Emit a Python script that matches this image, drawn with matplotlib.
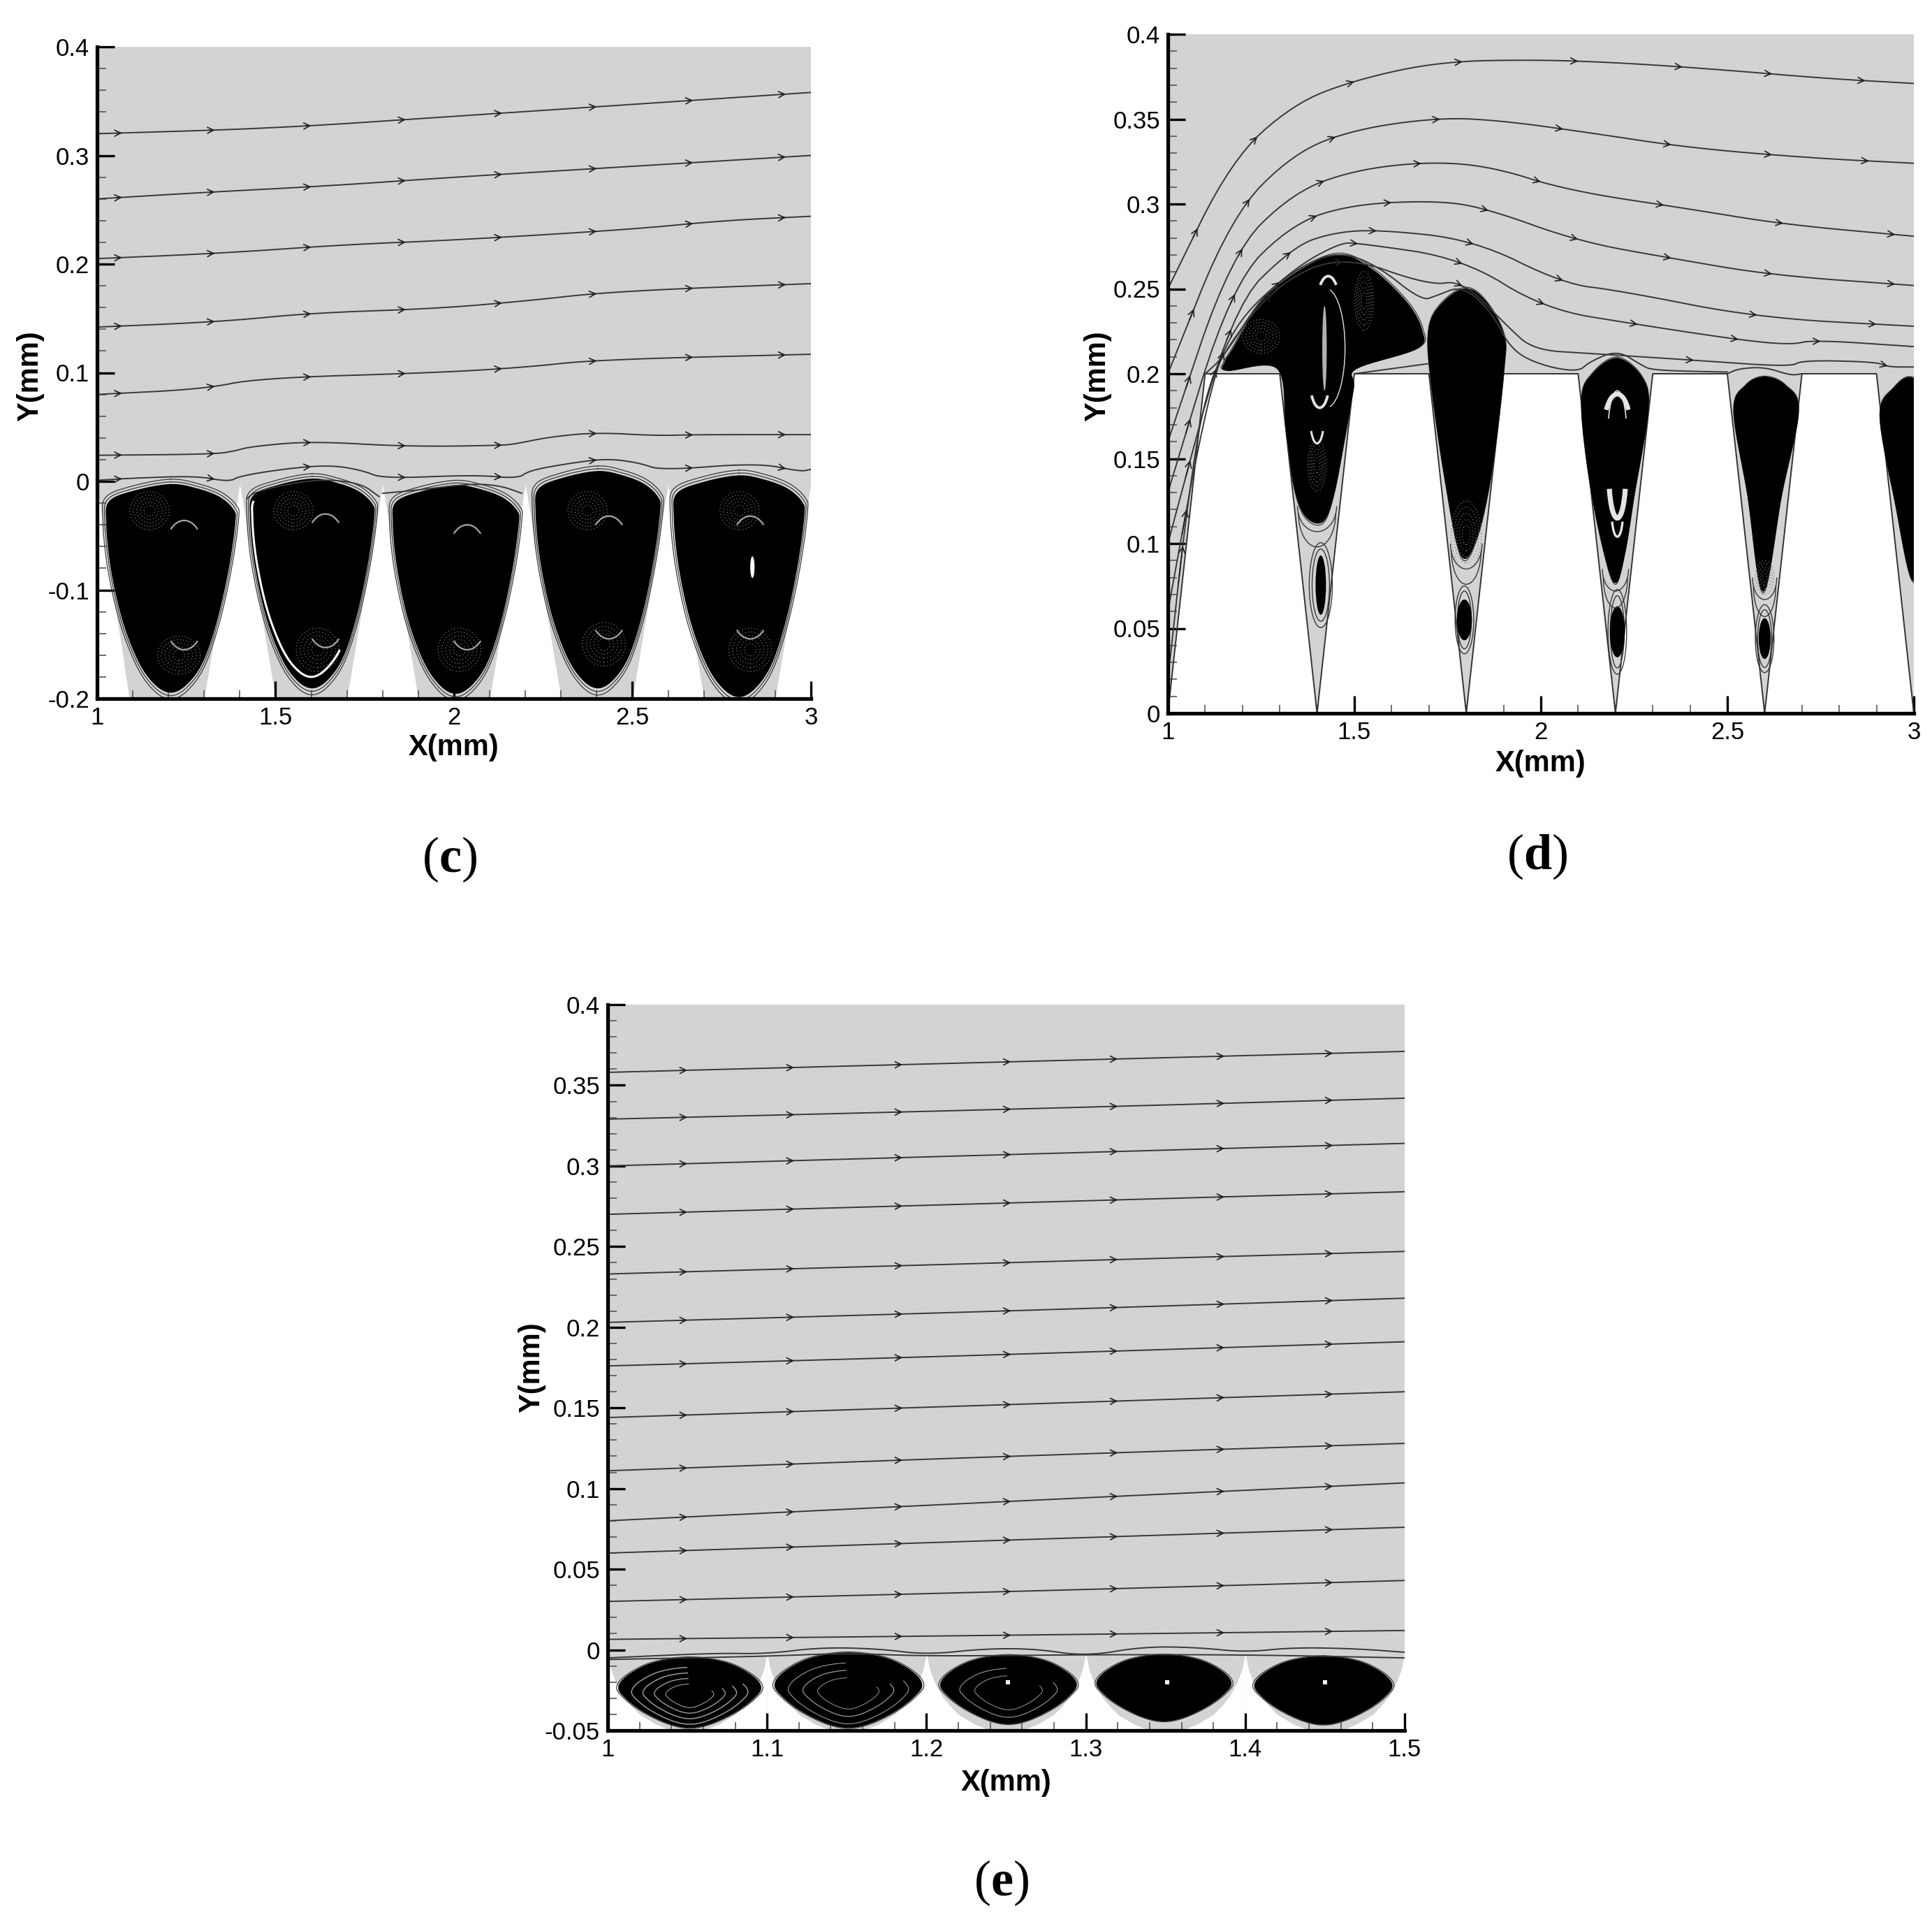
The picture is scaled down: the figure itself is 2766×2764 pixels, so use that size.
#!/usr/bin/env python3
"""Streamlines over ribbed walls, panels (c), (d) and (e)."""

import matplotlib
matplotlib.use("Agg")
import matplotlib.pyplot as plt
import numpy as np
from matplotlib.patches import Arc, Ellipse

plt.rcParams["font.family"] = ["Liberation Sans", "DejaVu Sans"]
plt.rcParams["mathtext.fontset"] = "custom"
plt.rcParams["mathtext.rm"] = "Liberation Serif"
plt.rcParams["mathtext.bf"] = "Liberation Serif:bold"

W, H = 2766, 2764
GRAY = "#d3d3d3"
LINE = "#383838"

# ---- panel (c)
c_wall_x = [1.0, 1.09, 1.3, 1.4, 1.5, 1.7, 1.8, 1.9, 2.1, 2.2, 2.3, 2.5, 2.6, 2.7, 2.9, 3.0]
c_wall_y = [-0.003, -0.2, -0.2, -0.003, -0.2, -0.2, -0.003, -0.2, -0.2, -0.003, -0.2, -0.2, -0.003, -0.2, -0.2, -0.003]
c_lines = [
    ([1, 1.5, 2, 2.5, 3], [0.32, 0.325, 0.336, 0.347, 0.358]),
    ([1, 1.3, 1.65, 2, 2.5, 3], [0.26, 0.266, 0.272, 0.28, 0.29, 0.3]),
    ([1, 1.35, 1.7, 2, 2.5, 2.75, 3], [0.205, 0.21, 0.218, 0.222, 0.232, 0.24, 0.244]),
    ([1, 1.35, 1.6, 1.95, 2.2, 2.45, 3], [0.142, 0.147, 0.155, 0.159, 0.166, 0.175, 0.182]),
    ([1, 1.3, 1.45, 1.95, 2.2, 2.4, 3], [0.08, 0.085, 0.095, 0.1, 0.105, 0.112, 0.117]),
    ([1, 1.33, 1.386, 1.43, 1.6, 1.865, 2.135, 2.18, 2.27, 2.4, 2.57, 2.67, 3],
     [0.024, 0.025, 0.028, 0.032, 0.037, 0.032, 0.033, 0.035, 0.041, 0.045, 0.042, 0.043, 0.043]),
    ([1, 1.1, 1.28, 1.37, 1.4, 1.536, 1.656, 1.745, 1.8, 2.06, 2.18, 2.21, 2.33, 2.43, 2.52, 2.58, 2.85, 2.97, 3],
     [0.001, 0.003, 0.005, -0.0005, 0.005, 0.012, 0.015, 0.01, 0.0025, 0.006, 0.0025, 0.01, 0.017,
      0.021, 0.017, 0.01, 0.017, 0.009, 0.011]),
]
c_short_lines = [
    ([1.42, 1.44, 1.54, 1.64, 1.74, 1.79], [-0.016, -0.01, -0.002, 0.002, -0.002, -0.014]),
    ([1.8, 1.9, 2.05, 2.13, 2.19], [-0.011, -0.008, -0.002, -0.004, -0.011]),
]
c_arrow_x = [1.07, 1.33, 1.6, 1.865, 2.135, 2.4, 2.67, 2.93]
# shared cell outline: half width fraction, depth fraction
c_shape_u = [0, 0.4, 0.75, 0.97, 1, 0.9, 0.72, 0.5, 0.25, 0, -0.25, -0.5, -0.75, -0.93, -1, -0.95, -0.55]
c_shape_v = [0, 0.02, 0.06, 0.12, 0.18, 0.4, 0.65, 0.85, 0.96, 1, 0.96, 0.85, 0.65, 0.4, 0.18, 0.08, 0.03]
c_left = [1.027, 1.43, 1.83, 2.23, 2.617]
c_right = [1.386, 1.775, 2.18, 2.576, 2.98]
c_top = [-0.003, 0.002, -0.004, 0.009, 0.005]
c_bottom = [-0.194, -0.19, -0.195, -0.19, -0.198]
c_patch_x = [1.147, 1.229, 1.55, 1.618, 2.015, 2.374, 2.42, 2.8, 2.83]
c_patch_y = [-0.027, -0.16, -0.027, -0.155, -0.155, -0.027, -0.15, -0.027, -0.155]
c_patch_w = [0.11, 0.12, 0.11, 0.12, 0.12, 0.11, 0.12, 0.11, 0.12]
c_patch_h = [0.035, 0.035, 0.035, 0.04, 0.04, 0.035, 0.04, 0.035, 0.04]
c_arch_x = [1.244, 1.64, 2.037, 2.434, 2.83]
c_arch_up_y = [-0.066, -0.06, -0.07, -0.062, -0.062]
c_arch_low_y = [-0.11, -0.108, -0.11, -0.1, -0.1]
c_slit = (2.836, -0.079, 0.012, 0.02)

# ---- panel (d)
d_wall_x = [1, 1.1, 1.3, 1.4, 1.5, 1.7, 1.8, 1.9, 2.1, 2.2, 2.3, 2.5, 2.6, 2.7, 2.9, 3.0]
d_wall_y = [0, 0.2, 0.2, 0, 0.2, 0.2, 0, 0.2, 0.2, 0, 0.2, 0.2, 0, 0.2, 0.2, 0]
d_lines = [
    ([1, 1.17, 1.337, 1.5, 1.73, 2, 2.23, 2.49, 2.76, 3],
     [0.25, 0.326, 0.359, 0.373, 0.384, 0.385, 0.383, 0.379, 0.374, 0.371]),
    ([1, 1.17, 1.337, 1.5, 1.73, 1.9, 2.13, 2.4, 2.73, 3],
     [0.2, 0.293, 0.33, 0.344, 0.351, 0.349, 0.342, 0.333, 0.327, 0.324]),
    ([1, 1.17, 1.337, 1.5, 1.7, 1.87, 2.07, 2.4, 2.65, 3],
     [0.16, 0.271, 0.307, 0.32, 0.325, 0.322, 0.308, 0.297, 0.288, 0.281]),
    ([1, 1.17, 1.337, 1.5, 1.73, 1.86, 2.1, 2.35, 2.62, 3],
     [0.13, 0.253, 0.289, 0.3, 0.302, 0.297, 0.278, 0.268, 0.258, 0.252]),
    ([1, 1.17, 1.337, 1.44, 1.56, 1.82, 2.06, 2.21, 2.58, 3],
     [0.1, 0.239, 0.275, 0.283, 0.285, 0.279, 0.253, 0.249, 0.233, 0.228]),
    ([1, 1.1, 1.17, 1.337, 1.46, 1.51, 1.79, 2.01, 2.26, 2.53, 2.67, 2.73, 3],
     [0.06, 0.18, 0.228, 0.262, 0.277, 0.277, 0.268, 0.238, 0.229, 0.22, 0.217, 0.22, 0.216]),
    ([1, 1.05, 1.1, 1.17, 1.3, 1.47, 1.7, 1.79, 1.91, 1.98, 2.13, 2.41, 2.67, 2.7, 2.9, 2.93, 3],
     [0.02, 0.12, 0.19, 0.22, 0.254, 0.27, 0.252, 0.255, 0.228, 0.214, 0.212, 0.208, 0.204, 0.208, 0.207, 0.204, 0.204]),
]
d_short_lines = [
    ([1.1, 1.15, 1.25, 1.36, 1.46, 1.56, 1.68, 1.72, 1.79, 1.87, 1.92, 2.0, 2.1, 2.13, 2.205, 2.27, 2.3, 2.5],
     [0.2, 0.21, 0.245, 0.264, 0.272, 0.264, 0.243, 0.246, 0.252, 0.236, 0.214, 0.205, 0.201, 0.207, 0.214,
      0.205, 0.202, 0.201]),
    ([1.5, 1.6, 1.7], [0.2, 0.203, 0.206]),
    ([2.5, 2.53, 2.6, 2.67, 2.7], [0.2, 0.203, 0.204, 0.199, 0.2]),
]
d_arrow_x = [
    [1.08, 1.24, 1.5, 1.79, 2.1, 2.38, 2.62, 2.87],
    [1.07, 1.22, 1.45, 1.73, 2.06, 2.35, 2.62, 2.88],
    [1.06, 1.2, 1.42, 1.68, 2.0, 2.33, 2.65, 2.95],
    [1.06, 1.18, 1.4, 1.6, 1.86, 2.1, 2.35, 2.62, 2.95],
    [1.06, 1.17, 1.33, 1.56, 1.82, 2.06, 2.58, 2.9],
    [1.05, 1.15, 1.3, 1.51, 1.79, 2.01, 2.26, 2.53, 2.75],
    [1.04, 1.13, 1.28, 1.47, 1.79, 2.41, 2.93],
]
d_main_x = [1.154, 1.176, 1.25, 1.355, 1.46, 1.55, 1.64, 1.68, 1.668, 1.504, 1.497, 1.474, 1.444, 1.415, 1.37, 1.34, 1.318, 1.295, 1.16]
d_main_y = [0.207, 0.215, 0.242, 0.261, 0.27, 0.261, 0.242, 0.226, 0.215, 0.203, 0.192, 0.163, 0.129, 0.113, 0.116, 0.133, 0.167, 0.203, 0.202]
d2_x = [1.795, 1.73, 1.70, 1.705, 1.743, 1.787, 1.83, 1.87, 1.90, 1.90, 1.85]
d2_y = [0.25, 0.24, 0.2255, 0.198, 0.139, 0.093, 0.105, 0.146, 0.202, 0.223, 0.243]
d3_x = [2.205, 2.14, 2.11, 2.13, 2.17, 2.2, 2.225, 2.25, 2.287, 2.27]
d3_y = [0.209, 0.2, 0.184, 0.139, 0.095, 0.077, 0.095, 0.129, 0.179, 0.198]
d4_x = [2.6, 2.55, 2.518, 2.555, 2.596, 2.645, 2.69, 2.655]
d4_y = [0.198, 0.193, 0.178, 0.129, 0.072, 0.129, 0.178, 0.193]
d5_x = [3.0, 2.945, 2.91, 2.95, 3.0, 3.04, 3.07]
d5_y = [0.197, 0.191, 0.175, 0.125, 0.078, 0.125, 0.175]
d_cell_x = [1.41, 1.795, 2.205, 2.6]
d_cell_y = [0.0755, 0.055, 0.048, 0.044]
d_cell_w = [0.028, 0.04, 0.04, 0.032]
d_cell_h = [0.035, 0.024, 0.03, 0.024]
d_halo_w = [0.062, 0.05, 0.05, 0.05]
d_halo_h = [0.05, 0.04, 0.05, 0.04]
d_u_x = [1.4, 1.4, 1.8, 1.8, 2.2, 2.2, 2.6, 2.6]
d_u_y = [0.122, 0.118, 0.1, 0.096, 0.085, 0.08, 0.08, 0.075]
d_u_w = [0.105, 0.1, 0.085, 0.08, 0.07, 0.065, 0.065, 0.06]
d_u_h = [0.03, 0.04, 0.03, 0.04, 0.026, 0.036, 0.026, 0.036]
d_speck_x = [1.25, 1.526, 1.4, 1.8, 2.6]
d_speck_y = [0.222, 0.243, 0.146, 0.105, 0.08]
d_speck_w = [0.1, 0.05, 0.05, 0.08, 0.05]
d_speck_h = [0.02, 0.035, 0.03, 0.04, 0.02]
# arcs: centre x, centre y, width, height, first angle, last angle, line width
d_arc_x = [1.43, 1.407, 1.4, 2.205, 2.205, 2.205, 1.425, 2.205]
d_arc_y = [0.24, 0.195, 0.172, 0.168, 0.14, 0.118, 0.215, 0.165]
d_arc_w = [0.06, 0.05, 0.035, 0.07, 0.045, 0.03, 0.1, 0.05]
d_arc_h = [0.035, 0.03, 0.026, 0.04, 0.05, 0.028, 0.07, 0.05]
d_arc_a = [30, 200, 200, 20, 200, 200, 285, 20]
d_arc_b = [150, 340, 340, 160, 340, 340, 75, 160]
d_arc_lw = [1.4, 1.4, 1.1, 2.4, 2.6, 1.2, 0.5, 0.6]
d_slit = (1.42, 0.215, 0.012, 0.05)

# ---- panel (e)
e_edges = [1.0, 1.1, 1.2, 1.3, 1.4]
e_wall_u = [0, 0.02, 0.05, 0.1, 0.15, 0.2, 0.3, 0.4, 0.6, 0.7, 0.8, 0.85, 0.9, 0.95, 0.98, 1]
e_wall_y = [-0.002, -0.012, -0.02, -0.029, -0.035, -0.04, -0.046, -0.05, -0.05, -0.046, -0.04, -0.035,
            -0.029, -0.02, -0.012, -0.002]
e_left_y = [0.358, 0.329, 0.3, 0.27, 0.233, 0.203, 0.176, 0.144, 0.111, 0.08, 0.06, 0.03, 0.0065]
e_mid_y = [0.3645, 0.335, 0.307, 0.277, 0.24, 0.21, 0.183, 0.152, 0.12, 0.092, 0.068, 0.036, 0.009]
e_right_y = [0.371, 0.342, 0.314, 0.284, 0.247, 0.218, 0.191, 0.16, 0.128, 0.1035, 0.076, 0.043, 0.012]
e_line_x = [1.0, 1.25, 1.5]
e_low_lines = [
    ([1, 1.067, 1.1, 1.133, 1.17, 1.2, 1.236, 1.268, 1.3, 1.336, 1.37, 1.4, 1.43, 1.47, 1.5],
     [-0.005, -0.002, -0.0025, 0.0015, 0.0007, -0.003, 0.0007, 0.0007, -0.004, 0.002, 0.0015, -0.0015, 0.0015, 0.0007, -0.0015]),
    ([1, 1.1, 1.15, 1.2, 1.3, 1.4, 1.5], [-0.006, -0.004, -0.002, -0.004, -0.003, -0.003, -0.005]),
]
e_arrow_x = [1.05, 1.117, 1.185, 1.253, 1.32, 1.387, 1.455]
e_shape_u = [0, 0.5, 0.85, 1, 0.9, 0.65, 0.3, 0, -0.3, -0.65, -0.9, -1, -0.85, -0.5]
e_shape_v = [0, 0.07, 0.24, 0.42, 0.58, 0.77, 0.94, 1, 0.94, 0.77, 0.58, 0.42, 0.24, 0.07]
e_left = [1.007, 1.105, 1.209, 1.307, 1.406]
e_right = [1.096, 1.197, 1.294, 1.391, 1.492]
e_top = [-0.005, -0.002, -0.0036, -0.0033, -0.0043]
e_bottom = [-0.048, -0.048, -0.0457, -0.044, -0.046]
e_hole_x = [1.251, 1.351, 1.45]
e_hole_y = [-0.0203, -0.02, -0.0203]
e_ring_cell = [0, 0, 0, 0, 1, 1, 1, 2, 2]
e_ring_scale = [0.82, 0.66, 0.5, 0.34, 0.82, 0.62, 0.42, 0.72, 0.5]
e_ring_lw = [0.55, 0.55, 0.5, 0.4, 0.4, 0.45, 0.35, 0.4, 0.35]

# ---- layout and ticks, in reference pixels
c_box = (139, 1161, 67, 1000)
d_box = (1672, 2740, 49, 1021)
e_box = (870, 2011, 1438, 2477)
c_xticks = [1, 1.5, 2, 2.5, 3]
c_yticks = [-0.2, -0.1, 0, 0.1, 0.2, 0.3, 0.4]
d_xticks = [1, 1.5, 2, 2.5, 3]
d_yticks = [0, 0.05, 0.1, 0.15, 0.2, 0.25, 0.3, 0.35, 0.4]
e_xticks = [1, 1.1, 1.2, 1.3, 1.4, 1.5]
e_yticks = [-0.05, 0, 0.05, 0.1, 0.15, 0.2, 0.25, 0.3, 0.35, 0.4]


def smooth_open(x, y, rounds=3):
    pts = np.column_stack([x, y]).astype(float)
    for _ in range(rounds):
        cur, nxt = pts[:-1], pts[1:]
        mid = np.empty((len(cur) * 2, 2))
        mid[0::2], mid[1::2] = 0.75 * cur + 0.25 * nxt, 0.25 * cur + 0.75 * nxt
        pts = np.vstack([pts[0], mid, pts[-1]])
    return pts[:, 0], pts[:, 1]


def smooth_closed(x, y, steps=10):
    # Catmull-Rom, so the outline passes through the points
    pts = np.column_stack([x, y]).astype(float)
    out = []
    for i in range(len(pts)):
        p0, p1, p2, p3 = pts[i - 1], pts[i], pts[(i + 1) % len(pts)], pts[(i + 2) % len(pts)]
        for t in np.linspace(0, 1, steps, endpoint=False):
            out.append(0.5 * (2 * p1 + (p2 - p0) * t + (2 * p0 - 5 * p1 + 4 * p2 - p3) * t ** 2
                              + (3 * p1 - p0 - 3 * p2 + p3) * t ** 3))
    out = np.array(out)
    return out[:, 0], out[:, 1]


def make_axes(fig, box, xlim, ylim, xticks, yticks, xminor, yminor, label_xy):
    left, right, top, bottom = box
    ax = fig.add_axes([left / W, 1 - bottom / H, (right - left) / W, (bottom - top) / H])
    ax.set_xlim(*xlim)
    ax.set_ylim(*ylim)
    ax.set_facecolor(GRAY)
    for side in ("top", "right"):
        ax.spines[side].set_visible(False)
    for side in ("left", "bottom"):
        ax.spines[side].set_linewidth(1.9)
        ax.spines[side].set_zorder(20)
    ax.set_xticks(xticks, [f"{t:g}" for t in xticks])
    ax.set_yticks(yticks, [f"{t:g}" for t in yticks])
    ax.set_xticks(np.arange(xlim[0], xlim[1] + 1e-9, xminor), minor=True)
    ax.set_yticks(np.arange(ylim[0], ylim[1] + 1e-9, yminor), minor=True)
    ax.tick_params(which="major", direction="in", length=9, width=1.2, labelsize=12.5, pad=4, zorder=21)
    ax.tick_params(which="minor", direction="in", length=4.5, width=0.6, color="#555555", zorder=21)
    ax.set_xlabel("X(mm)", fontsize=15, fontweight="bold")
    ax.set_ylabel("Y(mm)", fontsize=15, fontweight="bold")
    ax.xaxis.set_label_coords(0.5, label_xy[0])
    ax.yaxis.set_label_coords(label_xy[1], label_xy[2])
    return ax


def draw_line(ax, x, y, arrows, dx):
    sx, sy = smooth_open(x, y)
    ax.plot(sx, sy, color=LINE, lw=0.7, zorder=6)
    for ax_x in arrows:
        ya = np.interp(ax_x, sx, sy)
        yb = np.interp(ax_x - dx, sx, sy)
        ax.annotate("", xy=(ax_x, ya), xytext=(ax_x - dx, yb), zorder=7,
                    arrowprops=dict(arrowstyle="->", lw=0.6, color="#222222", mutation_scale=8,
                                    shrinkA=0, shrinkB=0))


def draw_cell(ax, x, y, halos=(1.03, 1.06)):
    sx, sy = smooth_closed(x, y)
    ax.fill(sx, sy, color="black", lw=0.6, zorder=4)
    cx, cy = sx.mean(), sy.mean()
    for k in halos:
        ax.plot(np.r_[cx + (sx - cx) * k, cx + (sx[0] - cx) * k], np.r_[cy + (sy - cy) * k, cy + (sy[0] - cy) * k],
                color=LINE, lw=0.45, zorder=3)


def speckle(ax, x, y, w, h, color="#7a7a7a"):
    for k in (1, 0.82, 0.64, 0.46, 0.28):
        ax.add_patch(Ellipse((x, y), w * k, h * k, fill=False, ec=color, lw=0.45, ls=(0, (1, 2.6)), zorder=5))


def arc(ax, x, y, w, h, a, b, lw, color="#d8d8d8"):
    ax.add_patch(Arc((x, y), w, h, theta1=a, theta2=b, ec=color, lw=lw, zorder=5))


fig = plt.figure(figsize=(W / 200, H / 200), dpi=200, facecolor="white")

# (c)
ax = make_axes(fig, c_box, (1, 3), (-0.2, 0.4), c_xticks, c_yticks, 0.1, 0.02, (-0.054, -0.074, 0.495))
ax.fill_between(c_wall_x, c_wall_y, -0.2, color="white", lw=0, zorder=1)
for x, y in c_lines:
    draw_line(ax, x, y, c_arrow_x, 0.015)
for x, y in c_short_lines:
    draw_line(ax, x, y, [], 0.015)
for l, r, t, b in zip(c_left, c_right, c_top, c_bottom):
    cx, hw = (l + r) / 2, (r - l) / 2
    draw_cell(ax, cx + np.array(c_shape_u) * hw, t + np.array(c_shape_v) * (b - t))
for x, y, w, h in zip(c_patch_x, c_patch_y, c_patch_w, c_patch_h):
    speckle(ax, x, y, w, h)
for x, yu, yl in zip(c_arch_x, c_arch_up_y, c_arch_low_y):
    arc(ax, x, yu, 0.11, 0.06, 30, 150, 0.8, "#a5a5a5")
    arc(ax, x, yl - 0.015, 0.11, 0.06, 210, 330, 0.8, "#a5a5a5")
sx, sy = smooth_closed(np.array(c_shape_u) * 0.165 + 1.6, -0.002 + np.array(c_shape_v) * -0.178)
n = len(sx)
ax.plot(sx[int(n * 0.42):int(n * 0.88)], sy[int(n * 0.42):int(n * 0.88)], color="white", lw=1.1, zorder=5)
ax.add_patch(Ellipse(c_slit[:2], c_slit[2], c_slit[3], fc="white", ec="none", zorder=5))

# (d)
ax = make_axes(fig, d_box, (1, 3), (0, 0.4), d_xticks, d_yticks, 0.1, 0.01, (-0.054, -0.076, 0.497))
ax.fill_between(d_wall_x, d_wall_y, 0, color="white", lw=0, zorder=1)
ax.plot(d_wall_x, d_wall_y, color="#333333", lw=0.7, zorder=2)
for (x, y), arrows in zip(d_lines, d_arrow_x):
    draw_line(ax, x, y, arrows, 0.012)
for x, y in d_short_lines:
    draw_line(ax, x, y, [], 0.012)
for x, y in zip((d_main_x, d2_x, d3_x, d4_x, d5_x), (d_main_y, d2_y, d3_y, d4_y, d5_y)):
    draw_cell(ax, x, y, halos=(1.015,))
for x, y, w, h, hw, hh in zip(d_cell_x, d_cell_y, d_cell_w, d_cell_h, d_halo_w, d_halo_h):
    ax.add_patch(Ellipse((x, y), w, h, fc="black", ec="none", zorder=4))
    ax.add_patch(Ellipse((x, y), hw, hh, fill=False, ec=LINE, lw=0.5, zorder=3))
    ax.add_patch(Ellipse((x, y), hw * 0.75, hh * 0.85, fill=False, ec=LINE, lw=0.5, zorder=3))
for x, y, w, h in zip(d_u_x, d_u_y, d_u_w, d_u_h):
    arc(ax, x, y, w, h, 180, 360, 0.5, LINE)
for x, y, w, h in zip(d_speck_x, d_speck_y, d_speck_w, d_speck_h):
    speckle(ax, x, y, w, h)
for x, y, w, h, a, b, lw in zip(d_arc_x, d_arc_y, d_arc_w, d_arc_h, d_arc_a, d_arc_b, d_arc_lw):
    arc(ax, x, y, w, h, a, b, lw, "#e4e4e4")
ax.add_patch(Ellipse(d_slit[:2], d_slit[2], d_slit[3], fc="#b0b0b0", ec="none", zorder=5))

# (e)
ax = make_axes(fig, e_box, (1, 1.5), (-0.05, 0.4), e_xticks, e_yticks, 0.02, 0.01, (-0.053, -0.078, 0.5))
for x0 in e_edges:
    ax.fill_between(x0 + np.array(e_wall_u) * 0.1, e_wall_y, -0.05, color="white", lw=0, zorder=1)
for a, b, c in zip(e_left_y, e_mid_y, e_right_y):
    draw_line(ax, e_line_x, [a, b, c], e_arrow_x, 0.004)
for x, y in e_low_lines:
    draw_line(ax, x, y, [], 0.004)
for l, r, t, b in zip(e_left, e_right, e_top, e_bottom):
    cx, hw = (l + r) / 2, (r - l) / 2
    draw_cell(ax, cx + np.array(e_shape_u) * hw, t + np.array(e_shape_v) * (b - t), halos=(1.03,))
for i, k, lw in zip(e_ring_cell, e_ring_scale, e_ring_lw):
    l, r, t, b = e_left[i], e_right[i], e_top[i], e_bottom[i]
    cx, cy, hw = (l + r) / 2, (t + b) / 2 - 0.002, (r - l) / 2
    sx, sy = smooth_closed(cx + np.array(e_shape_u) * hw * k, cy + (t + np.array(e_shape_v) * (b - t) - cy - 0.002) * k)
    n = len(sx)
    ax.plot(sx[n // 6:], sy[n // 6:], color="#9a9a9a", lw=lw, zorder=5)
ax.scatter(e_hole_x, e_hole_y, s=5, marker="s", color="white", lw=0, zorder=6)

# panel captions
fig.text(644 / W, 1 - 1230 / H, r"($\mathbf{c}$)", family="Liberation Serif", fontsize=26, ha="center", va="center")
fig.text(2201 / W, 1 - 1226 / H, r"($\mathbf{d}$)", family="Liberation Serif", fontsize=26, ha="center", va="center")
fig.text(1434 / W, 1 - 2695 / H, r"($\mathbf{e}$)", family="Liberation Serif", fontsize=26, ha="center", va="center")

fig.savefig("out.png", dpi=200)
